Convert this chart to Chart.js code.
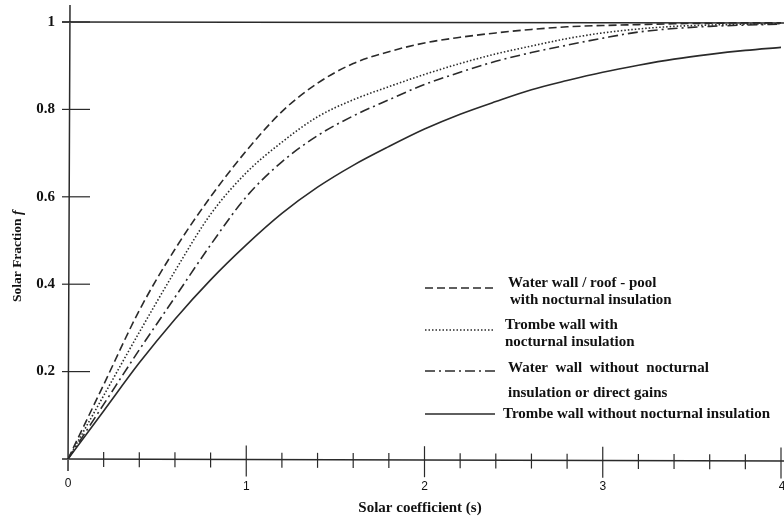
<!DOCTYPE html>
<html>
<head>
<meta charset="utf-8">
<script src="https://cdn.jsdelivr.net/npm/chart.js@4.4.1/dist/chart.umd.min.js"></script>
<style>
  html, body { margin: 0; padding: 0; background: #fff; }
  #wrap { width: 784px; height: 516px; }
</style>
</head>
<body>
<div id="wrap"><canvas id="solar-chart" width="784" height="516"></canvas></div>
<script>
// Solar coefficient (s) sample points
const sValues = [0, 0.2, 0.4, 0.6, 0.8, 1.0, 1.2, 1.4, 1.6, 1.8, 2.0, 2.2, 2.4, 2.6, 2.8, 3.0, 3.2, 3.4, 3.6, 3.8, 4.0];

// Solar fraction f
const waterWallInsulated = [0, 0.17, 0.34, 0.48, 0.60, 0.705, 0.795, 0.86, 0.905, 0.932, 0.952, 0.965, 0.975, 0.983, 0.989, 0.992, 0.994, 0.996, 0.997, 0.998, 0.998];
const trombeInsulated    = [0, 0.145, 0.29, 0.43, 0.56, 0.655, 0.725, 0.783, 0.822, 0.852, 0.88, 0.905, 0.927, 0.945, 0.962, 0.975, 0.984, 0.99, 0.993, 0.995, 0.996];
const waterWallPlain     = [0, 0.125, 0.25, 0.37, 0.49, 0.60, 0.68, 0.74, 0.785, 0.822, 0.857, 0.885, 0.91, 0.93, 0.947, 0.963, 0.977, 0.985, 0.99, 0.993, 0.995];
const trombePlain        = [0, 0.11, 0.22, 0.32, 0.41, 0.49, 0.562, 0.622, 0.672, 0.715, 0.755, 0.789, 0.818, 0.845, 0.866, 0.885, 0.901, 0.915, 0.926, 0.935, 0.942];

const xTickLabels = [0, 1, 2, 3, 4];
const xMinorTicks = [0.2, 0.4, 0.6, 0.8, 1.2, 1.4, 1.6, 1.8, 2.2, 2.4, 2.6, 2.8, 3.2, 3.4, 3.6, 3.8];
const yTickLabels = [0.2, 0.4, 0.6, 0.8, 1];

const legendLines = [
    ['Water wall / roof - pool', 'with nocturnal insulation'],
    ['Trombe wall with', 'nocturnal insulation'],
    ['Water  wall  without  nocturnal', 'insulation or direct gains'],
    ['Trombe wall without nocturnal insulation']
];

const ink = '#2a2a2a';
const serifBold = 'bold 15px "Liberation Serif", "Times New Roman", serif';

const toPoints = arr => arr.map((f, i) => ({ x: sValues[i], y: f }));

const lineStyle = (data, dash) => ({
    data: toPoints(data),
    borderColor: ink,
    borderWidth: 1.6,
    borderDash: dash,
    pointRadius: 0,
    fill: false,
    cubicInterpolationMode: 'monotone'
});

// Axes, ticks, labels and legend drawn against the chart's own scales
const paperAxes = {
    id: 'paperAxes',
    afterDraw(chart) {
        const { ctx, scales: { x, y } } = chart;
        const x0 = x.getPixelForValue(0);
        const y0 = y.getPixelForValue(0);
        const y1 = y.getPixelForValue(1);
        ctx.save();
        ctx.strokeStyle = ink;
        ctx.fillStyle = '#111';
        ctx.lineWidth = 1.5;
        ctx.setLineDash([]);

        // y axis and x axis
        ctx.beginPath();
        ctx.moveTo(x0 + 2, 5);
        ctx.lineTo(x0, y0 + 12);
        ctx.moveTo(x0 - 6, y0);
        ctx.lineTo(784, y0 + 2);
        // f = 1 line
        ctx.moveTo(x0 - 6, y1);
        ctx.lineTo(784, y1 + 1);
        ctx.stroke();

        // y ticks
        ctx.lineWidth = 1.2;
        yTickLabels.forEach(v => {
            const py = y.getPixelForValue(v);
            ctx.beginPath();
            ctx.moveTo(x0 - 6, py);
            ctx.lineTo(x0 + 22, py);
            ctx.stroke();
        });
        ctx.font = 'bold 15px "Liberation Serif", "Times New Roman", serif';
        ctx.textAlign = 'right';
        ctx.textBaseline = 'middle';
        yTickLabels.forEach(v => {
            ctx.fillText(String(v), 55, y.getPixelForValue(v));
        });

        // x ticks
        xMinorTicks.forEach(v => {
            const px = x.getPixelForValue(v);
            const py = y0 + v * 0.6;
            ctx.beginPath();
            ctx.moveTo(px, py - 7);
            ctx.lineTo(px, py + 8);
            ctx.stroke();
        });
        xTickLabels.forEach(v => {
            if (v === 0) return;
            const px = x.getPixelForValue(v);
            const py = y0 + v * 0.6;
            ctx.beginPath();
            ctx.moveTo(px, py - 14);
            ctx.lineTo(px, py + 17);
            ctx.stroke();
        });
        ctx.font = '12px "Liberation Sans", Arial, sans-serif';
        ctx.textAlign = 'center';
        xTickLabels.forEach(v => {
            const px = x.getPixelForValue(v);
            ctx.fillText(String(v), v === 4 ? px + 1 : px, v === 0 ? 484 : 487);
        });

        // axis titles
        ctx.font = serifBold;
        ctx.fillText('Solar coefficient (s)', 420, 508);

        ctx.save();
        ctx.translate(18, 255);
        ctx.rotate(-Math.PI / 2);
        ctx.font = 'bold 13.5px "Liberation Serif", "Times New Roman", serif';
        const t = 'Solar Fraction ';
        const w = ctx.measureText(t).width;
        ctx.textAlign = 'left';
        ctx.fillText(t, -47, 0);
        ctx.font = 'italic bold 14px "Liberation Serif", "Times New Roman", serif';
        ctx.fillText('f', -47 + w, 0);
        ctx.restore();

        // legend
        const rows = [
            { y: 288, ty: [283, 300], tx: 508 },
            { y: 330, ty: [325, 342], tx: 505 },
            { y: 371, ty: [368, 393], tx: 508 },
            { y: 414, ty: [414], tx: 503 }
        ];
        ctx.font = serifBold;
        ctx.textAlign = 'left';
        chart.data.datasets.forEach((ds, i) => {
            const r = rows[i];
            ctx.lineWidth = ds.borderWidth;
            ctx.setLineDash(ds.borderDash || []);
            ctx.beginPath();
            ctx.moveTo(425, r.y);
            ctx.lineTo(495, r.y);
            ctx.stroke();
            ctx.setLineDash([]);
            legendLines[i].forEach((line, j) => {
                ctx.fillText(line, j === 1 && i === 0 ? r.tx + 2 : r.tx, r.ty[j]);
            });
        });
        ctx.restore();
    }
};

new Chart(document.getElementById('solar-chart').getContext('2d'), {
    type: 'line',
    data: {
        datasets: [
            lineStyle(waterWallInsulated, [8, 4]),
            lineStyle(trombeInsulated, [1.5, 2]),
            lineStyle(waterWallPlain, [10, 4, 2, 4]),
            lineStyle(trombePlain, [])
        ]
    },
    options: {
        responsive: false,
        animation: false,
        layout: { padding: { left: 68, right: 3, top: 22, bottom: 57 } },
        plugins: { legend: { display: false }, tooltip: { enabled: false } },
        scales: {
            x: { type: 'linear', min: 0, max: 4, display: false },
            y: { type: 'linear', min: 0, max: 1, display: false }
        }
    },
    plugins: [paperAxes]
});
</script>
</body>
</html>
